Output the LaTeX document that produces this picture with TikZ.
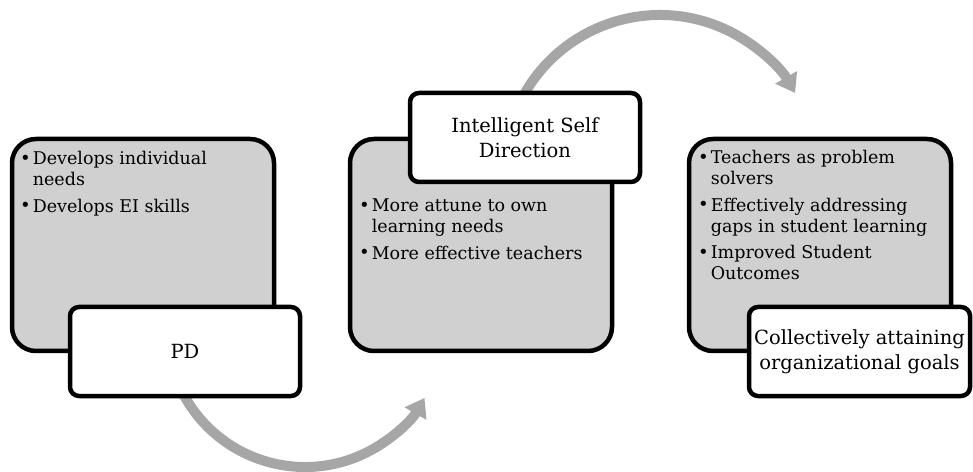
\documentclass[tikz,border=0pt]{standalone}
\usepackage{fontspec}
\setmainfont{DejaVu Serif}
\usetikzlibrary{positioning}
\usetikzlibrary{calc}
\usetikzlibrary{arrows.meta}
\usetikzlibrary{backgrounds}

\definecolor{panelgray}{RGB}{208,208,208}
\definecolor{bendgray}{RGB}{166,166,166}

\newcommand{\dotmark}{\raisebox{0.5pt}{\fontsize{18}{18}\selectfont\textbullet}}

\tikzset{
  panel/.style={draw, line width=4.5pt, fill=panelgray, rounded corners=24pt,
    minimum width=262pt, minimum height=212pt},
  tag/.style={draw, line width=4.5pt, fill=white, rounded corners=9pt,
    minimum width=230pt, minimum height=89pt, align=center,
    font=\fontsize{19.5}{25}\selectfont},
  bullets/.style={anchor=base west, inner sep=0pt, font=\fontsize{17.5}{21}\selectfont},
  bendarrow/.style={line width=10pt, draw=bendgray, -{Triangle[length=18pt,width=24pt]}}
}

\begin{document}
\begin{tikzpicture}[x=1pt, y=1pt]

    \useasboundingbox (0,0) rectangle (973,471);

    % Panels
    \node[panel] (pdlist) at (143,226) {};
    \node[panel] (isdlist) at (481,226) {};
    \node[panel] (goalslist) at (820,226) {};

    % Titles
    \node[tag] (pd) at (185,119.5) {PD};
    \node[tag] (isd) at (525,333.5) {Intelligent Self\\Direction};
    \node[tag, minimum width=221pt] (goals) at (859.5,119.5) {Collectively attaining\\organizational goals};

    % Bullet lists
    \node[bullets] (pdtext) at (20,306) {\begin{tabular}[t]{@{}l@{\hspace{2pt}}l@{}}
      \dotmark & Develops individual\\
               & needs\\[5.5pt]
      \dotmark & Develops EI skills
    \end{tabular}};
    \node[bullets] (isdtext) at (359,259) {\begin{tabular}[t]{@{}l@{\hspace{2pt}}l@{}}
      \dotmark & More attune to own\\
               & learning needs\\[5.5pt]
      \dotmark & More effective teachers
    \end{tabular}};
    \node[bullets] (goalstext) at (698,307) {\begin{tabular}[t]{@{}l@{\hspace{2pt}}l@{}}
      \dotmark & Teachers as problem\\
               & solvers\\[5.5pt]
      \dotmark & Effectively addressing\\
               & gaps in student learning\\[5.5pt]
      \dotmark & Improved Student\\
               & Outcomes
    \end{tabular}};

    % Bending arrows
    \coordinate (bendA) at (305,142);
    \coordinate (bendB) at (660,300);
    \begin{scope}[on background layer]
      \draw[bendarrow] ([shift={(208:138)}]bendA) arc[start angle=208, end angle=330, radius=138];
      \draw[bendarrow] ([shift={(152:156)}]bendB) arc[start angle=152, end angle=30, radius=156];
    \end{scope}

  \end{tikzpicture}
\end{document}
